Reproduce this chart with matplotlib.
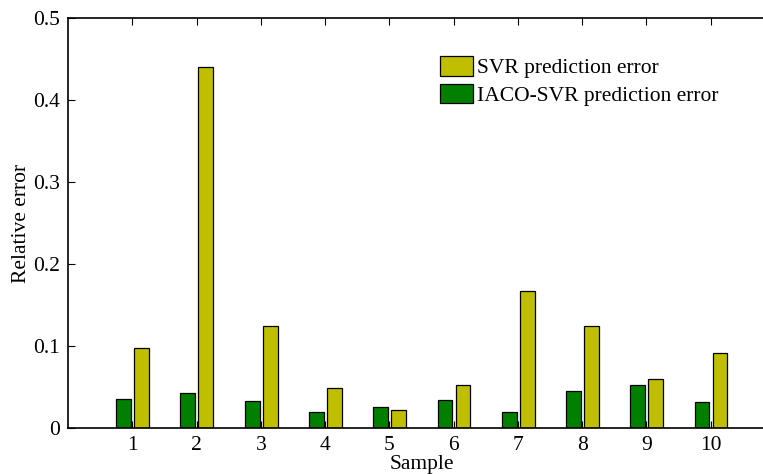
import matplotlib
matplotlib.use("Agg")
import matplotlib.pyplot as plt
import numpy as np

samples = [1, 2, 3, 4, 5, 6, 7, 8, 9, 10]
svr_error = [0.098, 0.441, 0.124, 0.049, 0.022, 0.053, 0.167, 0.125, 0.060, 0.091]
iaco_svr_error = [0.036, 0.043, 0.033, 0.019, 0.026, 0.034, 0.020, 0.045, 0.052, 0.032]
yticks = [0, 0.1, 0.2, 0.3, 0.4, 0.5]
ytick_labels = ["0", "0.1", "0.2", "0.3", "0.4", "0.5"]

plt.rcParams['font.family'] = ['Liberation Serif', 'DejaVu Serif']

FS = 15.5
W, H = 763, 474
fig = plt.figure(figsize=(W / 100, H / 100), dpi=100)
left, right, top, bottom = 68, 775, 18.5, 428
ax = fig.add_axes([left / W, 1 - bottom / H, (right - left) / W, (bottom - top) / H])

x = np.array(samples, dtype=float)
w = 0.23
ax.bar(x - 0.135, iaco_svr_error, width=w, color='#007F00', edgecolor='black',
       linewidth=0.9, label='IACO-SVR prediction error', zorder=2)
ax.bar(x + 0.145, svr_error, width=w, color='#BFBF00', edgecolor='black',
       linewidth=0.9, label='SVR prediction error', zorder=2)

ax.set_xlim(0, 11)
ax.set_ylim(0, 0.5)
ax.set_xticks(samples)
ax.set_xticklabels([str(s) for s in samples])
ax.set_yticks(yticks)
ax.set_yticklabels(ytick_labels)
ax.tick_params(direction='in', length=5, width=0.8, labelsize=FS, top=True, right=False, pad=6)
for s in ['left', 'bottom', 'top']:
    ax.spines[s].set_linewidth(1.2)
ax.spines['right'].set_visible(False)

ax.set_xlabel('Sample', fontsize=FS, labelpad=-0.5)
ax.set_ylabel('Relative error', fontsize=FS, labelpad=1)

handles, labels = ax.get_legend_handles_labels()
leg = ax.legend(handles[::-1], labels[::-1], loc='upper left',
                bbox_to_anchor=(436 / W, 1 - 52 / H), bbox_transform=fig.transFigure,
                frameon=False, fontsize=FS, handlelength=1.5, handleheight=1.0,
                handletextpad=0.2, labelspacing=0.25, borderpad=0.2, borderaxespad=0)

fig.savefig('out.png', dpi=100)
